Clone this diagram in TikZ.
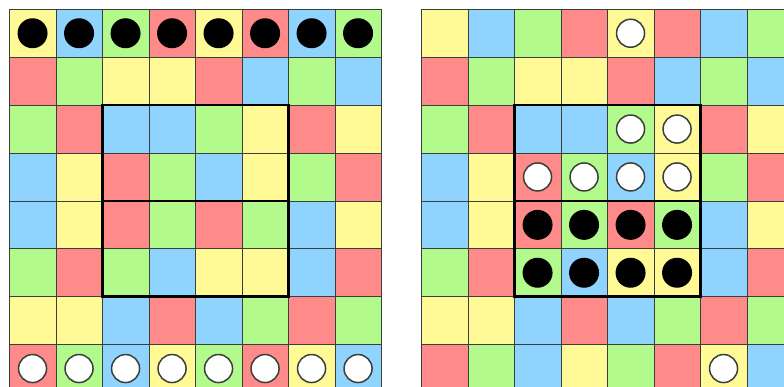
\documentclass[tikz,border=0pt]{standalone}
\usetikzlibrary{calc}
\definecolor{CellY}{HTML}{FFFA96}
\definecolor{CellB}{HTML}{8FD4FF}
\definecolor{CellG}{HTML}{B3FA8C}
\definecolor{CellR}{HTML}{FF8A8A}
\definecolor{Edge}{HTML}{3A3F3A}

\begin{document}
\begin{tikzpicture}[x=1pt,y=-1pt,
    cell/.style={draw=Edge,line width=0.6pt},
    frame/.style={draw=black,line width=2.7pt},
    blackstone/.style={circle,fill=black,inner sep=0pt,minimum size=30pt},
    whitestone/.style={circle,fill=white,draw=Edge,line width=1.5pt,inner sep=0pt,minimum size=28pt}]
  \useasboundingbox (0,0) rectangle (784,387);
  \clip (0,0) rectangle (784,387);
  \fill[white] (0,0) rectangle (784,387);
  % the same colour board, twice
  \foreach \ox in {9.3,421.3}{
    \foreach \row [count=\r from 0] in {{Y,B,G,R,Y,R,B,G},{R,G,Y,Y,R,B,G,B},
        {G,R,B,B,G,Y,R,Y},{B,Y,R,G,B,Y,G,R},{B,Y,R,G,R,G,B,Y},
        {G,R,G,B,Y,Y,B,R},{Y,Y,B,R,B,G,R,G},{R,G,B,Y,G,R,Y,B}}{
      \foreach \c [count=\k from 0] in \row
        \draw[cell,fill=Cell\c] (\ox+\k*46.5,9.3+\r*47.9) rectangle ++(46.5,47.9);
    }
    \draw[frame] (\ox+2*46.5,9.3+2*47.9) rectangle ++(4*46.5,4*47.9);
    \draw[frame] (\ox+2*46.5,9.3+4*47.9) -- ++(4*46.5,0);
  }
  % left board: stones on the first and last row
  \foreach \k in {0,...,7}{
    \node[blackstone] (lb\k) at (9.3+\k*46.5+23.25,9.3+0.5*47.9) {};
    \node[whitestone] (lw\k) at (9.3+\k*46.5+23.25,9.3+7.5*47.9) {};
  }
  % right board
  \foreach \k/\r [count=\i] in {4/0,4/2,5/2,2/3,3/3,4/3,5/3,6/7}
    \node[whitestone] (rw\i) at (421.3+\k*46.5+23.25,9.3+\r*47.9+23.95) {};
  \foreach \k/\r [count=\i] in {2/4,3/4,4/4,5/4,2/5,3/5,4/5,5/5}
    \node[blackstone] (rb\i) at (421.3+\k*46.5+23.25,9.3+\r*47.9+23.95) {};
\end{tikzpicture}
\end{document}
